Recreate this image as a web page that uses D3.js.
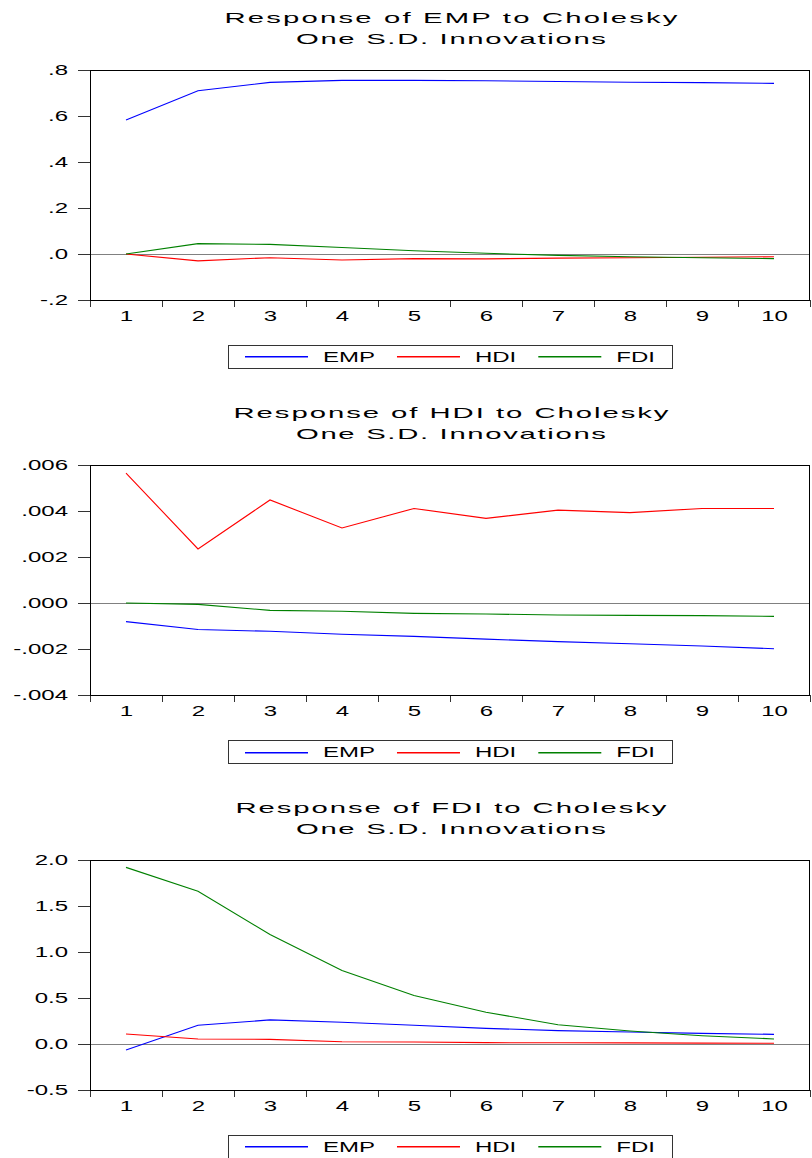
<!DOCTYPE html>
<html><head><meta charset="utf-8">
<script src="https://cdn.jsdelivr.net/npm/d3@7"></script>
<style>body{margin:0;background:#fff}</style></head>
<body><svg id="c" width="812" height="1158"></svg>
<script>
// ---------- data ----------
const periods = [1,2,3,4,5,6,7,8,9,10];
const seriesNames = ["EMP","HDI","FDI"];
const titleLines1 = ["Response of EMP to Cholesky","Response of HDI to Cholesky","Response of FDI to Cholesky"];
const titleLine2 = "One S.D. Innovations";

// Response of EMP
const empToEMP = [0.583,0.710,0.746,0.755,0.755,0.753,0.750,0.747,0.745,0.742];
const empToHDI = [0.000,-0.030,-0.016,-0.026,-0.020,-0.021,-0.018,-0.016,-0.014,-0.012];
const empToFDI = [0.000,0.045,0.042,0.028,0.014,0.003,-0.006,-0.012,-0.016,-0.020];
// Response of HDI
const hdiToEMP = [-0.00081,-0.00115,-0.00123,-0.00136,-0.00145,-0.00157,-0.00168,-0.00177,-0.00187,-0.00199];
const hdiToHDI = [0.00565,0.00235,0.00448,0.00326,0.00411,0.00368,0.00404,0.00393,0.00411,0.00411];
const hdiToFDI = [0.00000,-0.00006,-0.00032,-0.00036,-0.00045,-0.00048,-0.00052,-0.00054,-0.00055,-0.00058];
// Response of FDI
const fdiToEMP = [-0.065,0.203,0.262,0.236,0.203,0.170,0.145,0.131,0.116,0.105];
const fdiToHDI = [0.109,0.055,0.050,0.025,0.022,0.015,0.013,0.012,0.010,0.008];
const fdiToFDI = [1.92,1.66,1.19,0.80,0.527,0.345,0.21,0.142,0.09,0.055];

const yTicksEMP = [-0.2,0,0.2,0.4,0.6,0.8];
const yLabelsEMP = ["-.2",".0",".2",".4",".6",".8"];
const yTicksHDI = [-0.004,-0.002,0,0.002,0.004,0.006];
const yLabelsHDI = ["-.004","-.002",".000",".002",".004",".006"];
const yTicksFDI = [-0.5,0,0.5,1.0,1.5,2.0];
const yLabelsFDI = ["-0.5","0.0","0.5","1.0","1.5","2.0"];

// ---------- styles / layout ----------
const colors = ["#0000ff","#ff0000","#008000"];
const FONT = "'Liberation Sans', Arial, Helvetica, sans-serif";
const SX = 1.6;           // horizontal stretch of glyphs in the reference
const TSX = 1.95;         // stretch of the title glyphs
const FS = 15;
const titleWidths = [453,435,431];
const line2Width = 310;
const L = 90, R = 810, PH = 230, TOP0 = 70, STEP = 395;

const panels = [
  {t: titleLines1[0], series:[empToEMP, empToHDI, empToFDI], ticks:yTicksEMP, labels:yLabelsEMP},
  {t: titleLines1[1], series:[hdiToEMP, hdiToHDI, hdiToFDI], ticks:yTicksHDI, labels:yLabelsHDI},
  {t: titleLines1[2], series:[fdiToEMP, fdiToHDI, fdiToFDI], ticks:yTicksFDI, labels:yLabelsFDI}
];

const svg = d3.select("#c");

panels.forEach((p, i) => {
  const top = TOP0 + i*STEP, bottom = top + PH;
  const g = svg.append("g");
  const x = d3.scaleLinear().domain([0.5, 10.5]).range([L, R]);
  const y = d3.scaleLinear().domain([p.ticks[0], p.ticks[p.ticks.length-1]]).range([bottom, top]);

  // titles
  g.append("text")
    .attr("transform", `translate(451,${top-47}) scale(${TSX},1)`)
    .attr("text-anchor","middle").attr("font-family",FONT).attr("font-size",FS)
    .attr("textLength", titleWidths[i]/TSX).attr("lengthAdjust","spacing")
    .text(p.t);
  g.append("text")
    .attr("transform", `translate(451,${top-26}) scale(${TSX},1)`)
    .attr("text-anchor","middle").attr("font-family",FONT).attr("font-size",FS)
    .attr("textLength", line2Width/TSX).attr("lengthAdjust","spacing")
    .text(titleLine2);

  // zero line
  g.append("line").attr("x1",L).attr("x2",R).attr("y1",Math.round(y(0))+0.5).attr("y2",Math.round(y(0))+0.5)
    .attr("stroke","#808080").attr("stroke-width",1);

  // y axis
  const ya = g.append("g").attr("transform",`translate(${L},0)`)
    .call(d3.axisLeft(y).tickValues(p.ticks).tickFormat((d,j)=>p.labels[j]).tickSize(12).tickPadding(10));
  ya.select(".domain").remove();
  ya.selectAll(".tick line").attr("stroke","#333");
  ya.selectAll(".tick text").attr("font-family",FONT).attr("font-size",FS).attr("fill","#000")
    .attr("x", -22/SX).attr("transform",`scale(${SX},1)`);

  // x axis ticks at band edges
  const xt = g.append("g").attr("transform",`translate(0,${bottom})`)
    .call(d3.axisBottom(x).tickValues(d3.range(0.5, 11, 1)).tickSize(7).tickFormat(""));
  xt.select(".domain").remove();
  xt.selectAll(".tick line").attr("stroke","#333");

  // x labels at period centres
  const xl = g.append("g").attr("transform",`translate(0,${bottom})`)
    .call(d3.axisBottom(x).tickValues(periods).tickSize(0).tickPadding(10).tickFormat(d3.format("d")));
  xl.select(".domain").remove();
  xl.selectAll(".tick line").remove();
  xl.selectAll(".tick text").attr("font-family",FONT).attr("font-size",FS).attr("fill","#000")
    .attr("transform",`scale(${SX},1)`);

  // series lines
  const line = d3.line().x((d,k)=>x(periods[k])).y(d=>y(d));
  p.series.forEach((s, k) => {
    g.append("path").datum(s).attr("d", line).attr("fill","none")
      .attr("stroke", colors[k]).attr("stroke-width", 1.1);
  });

  // frame
  g.append("rect").attr("x",L+0.5).attr("y",top+0.5).attr("width",R-L-1).attr("height",PH)
    .attr("fill","none").attr("stroke","#000").attr("stroke-width",1);

  // legend
  const ly = bottom + 45;
  const lg = g.append("g");
  lg.append("rect").attr("x",228.5).attr("y",ly+0.5).attr("width",444).attr("height",23)
    .attr("fill","#fff").attr("stroke","#333").attr("stroke-width",1);
  const lineRow = Math.floor((ly + 12) / 2) * 2;
  let cx = 245;
  seriesNames.forEach((name, k) => {
    lg.append("rect").attr("x",cx).attr("y",lineRow).attr("width",63).attr("height",1.5)
      .attr("fill",colors[k]);
    cx += 78;
    const t = lg.append("text").attr("transform",`translate(${cx},${ly+17}) scale(${SX},1)`)
      .attr("font-family",FONT).attr("font-size",FS).attr("fill","#000").text(name);
    const w = t.node().getComputedTextLength()*SX;
    cx += w + 22;
  });
});
</script>
</body></html>
